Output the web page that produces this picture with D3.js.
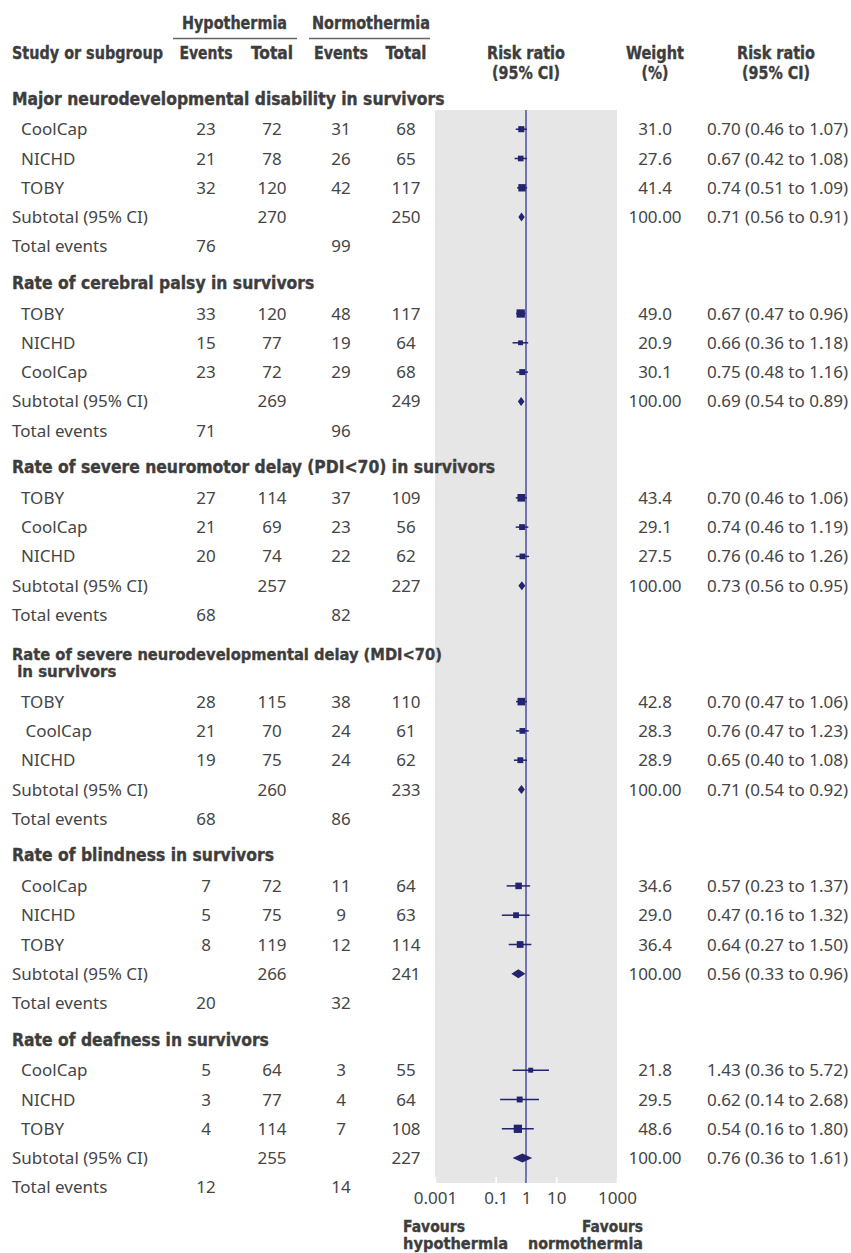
<!DOCTYPE html>
<html><head><meta charset="utf-8">
<script src="https://cdn.jsdelivr.net/npm/d3@7"></script>
<style>body{margin:0;background:#fff}</style>
</head><body><svg id="c" width="851" height="1253"></svg>
<script>
// ---------- data ----------
const outcomeTitles = [
  ["Major neurodevelopmental disability in survivors"],
  ["Rate of cerebral palsy in survivors"],
  ["Rate of severe neuromotor delay (PDI<70) in survivors"],
  ["Rate of severe neurodevelopmental delay (MDI<70)", " in survivors"],
  ["Rate of blindness in survivors"],
  ["Rate of deafness in survivors"]
];
const studyNames = [
  ["CoolCap","NICHD","TOBY"],["TOBY","NICHD","CoolCap"],["TOBY","CoolCap","NICHD"],
  ["TOBY"," CoolCap","NICHD"],["CoolCap","NICHD","TOBY"],["CoolCap","NICHD","TOBY"]
];
const hypEvents = [[23,21,32],[33,15,23],[27,21,20],[28,21,19],[7,5,8],[5,3,4]];
const hypTotal  = [[72,78,120],[120,77,72],[114,69,74],[115,70,75],[72,75,119],[64,77,114]];
const norEvents = [[31,26,42],[48,19,29],[37,23,22],[38,24,24],[11,9,12],[3,4,7]];
const norTotal  = [[68,65,117],[117,64,68],[109,56,62],[110,61,62],[64,63,114],[55,64,108]];
const weights   = [[31.0,27.6,41.4],[49.0,20.9,30.1],[43.4,29.1,27.5],[42.8,28.3,28.9],[34.6,29.0,36.4],[21.8,29.5,48.6]];
const rr     = [[0.70,0.67,0.74],[0.67,0.66,0.75],[0.70,0.74,0.76],[0.70,0.76,0.65],[0.57,0.47,0.64],[1.43,0.62,0.54]];
const rrLow  = [[0.46,0.42,0.51],[0.47,0.36,0.48],[0.46,0.46,0.46],[0.47,0.47,0.40],[0.23,0.16,0.27],[0.36,0.14,0.16]];
const rrHigh = [[1.07,1.08,1.09],[0.96,1.18,1.16],[1.06,1.19,1.26],[1.06,1.23,1.08],[1.37,1.32,1.50],[5.72,2.68,1.80]];
const subHypTotal = [270,269,257,260,266,255];
const subNorTotal = [250,249,227,233,241,227];
const subRR   = [0.71,0.69,0.73,0.71,0.56,0.76];
const subLow  = [0.56,0.54,0.56,0.54,0.33,0.36];
const subHigh = [0.91,0.89,0.95,0.92,0.96,1.61];
const totHyp = [76,71,68,68,20,12];
const totNor = [99,96,82,86,32,14];
const tickValues = [0.001,0.1,1,10,1000];
const tickLabels = ["0.001","0.1","1","10","1000"];

// ---------- layout ----------
const svg = d3.select("#c");
const TXT = "#454545", BTXT = "#3d3d3d", NAVY = "#23236f", LINE1 = "#4040a0";
const REG = "'Noto Sans', 'Open Sans', sans-serif";
const BOLD = "'DejaVu Sans Condensed', 'DejaVu Sans', sans-serif";

function fitSize(family, weight, str, target){
  const t = svg.append("text").attr("font-family", family).attr("font-weight", weight)
    .attr("font-size", 20).text(str);
  const w = t.node().getComputedTextLength(); t.remove();
  return 20 * target / w;
}
const regSize = fitSize(REG, 400, "Subtotal (95% CI)", 136);
const boldSize = fitSize(BOLD, 700, "Major neurodevelopmental disability in survivors", 433);

function reg(x, y, s, anchor){
  return svg.append("text").attr("x", x).attr("y", y).attr("text-anchor", anchor || "start")
    .attr("font-family", REG).attr("font-size", regSize).attr("fill", TXT).text(s);
}
function bold(x, y, s, anchor, len, size){
  const t = svg.append("text").attr("x", x).attr("y", y).attr("text-anchor", anchor || "start")
    .attr("font-family", BOLD).attr("font-weight", 700).attr("font-size", size || boldSize)
    .attr("fill", BTXT).attr("stroke", BTXT).attr("stroke-width", 0.35)
    .attr("xml:space","preserve").text(s);
  if (len) t.attr("textLength", len).attr("lengthAdjust", "spacingAndGlyphs");
  return t;
}

const panelL = 435, panelR = 617, panelT = 110, panelB = 1183;
const x = d3.scaleLog().domain([0.001, 1000]).range([panelL, panelR]);
const sq = d3.scaleLinear().domain([0, 50]).range([2.2, 8.45]);

const colHypE = 206, colHypT = 272, colNorE = 341, colNorT = 406, colW = 655, colRRend = 848;
const rowH = 29.3, pitch = 184.3, extraLine = 19.5;

// panel
svg.append("rect").attr("x", panelL).attr("y", panelT).attr("width", panelR - panelL)
  .attr("height", panelB - panelT).attr("fill", "#e6e6e6");

// header
bold(234.5, 29, "Hypothermia", "middle", 105);
bold(371, 29, "Normothermia", "middle", 118);
svg.append("line").attr("x1",173).attr("x2",297).attr("y1",38.5).attr("y2",38.5).attr("stroke","#666").attr("stroke-width",1.3);
svg.append("line").attr("x1",309).attr("x2",430).attr("y1",38.5).attr("y2",38.5).attr("stroke","#666").attr("stroke-width",1.3);
bold(12, 59, "Study or subgroup", "start", 151);
bold(colHypE, 59, "Events", "middle", 53);
bold(colHypT, 59, "Total", "middle", 42);
bold(colNorE, 59, "Events", "middle", 54);
bold(colNorT, 59, "Total", "middle", 41);
bold(526, 59, "Risk ratio", "middle", 78); bold(526, 79, "(95% CI)", "middle", 68);
bold(colW, 59, "Weight", "middle", 58); bold(colW, 79, "(%)", "middle", 27);
bold(776, 59, "Risk ratio", "middle", 78); bold(776, 79, "(95% CI)", "middle", 68);

const f2 = d3.format(".2f"), f1 = d3.format(".1f");
const rrText = (a, l, h) => `${f2(a)} (${f2(l)} to ${f2(h)})`;

// axis (white ticks inside panel)
const axis = d3.axisBottom(x).tickValues(tickValues).tickFormat((d, i) => tickLabels[i])
  .tickSizeInner(-6).tickSizeOuter(0).tickPadding(9);
const ag = svg.append("g").attr("transform", `translate(0,${panelB})`).call(axis);
ag.select(".domain").remove();
ag.selectAll(".tick line").attr("stroke", "#fff").attr("stroke-width", 1.5);
ag.selectAll(".tick text").attr("font-family", REG).attr("font-size", regSize).attr("fill", TXT);

// line of no effect
svg.append("line").attr("x1", x(1)).attr("x2", x(1)).attr("y1", panelT).attr("y2", panelB)
  .attr("stroke", LINE1).attr("stroke-width", 1.4);

let first = 129.2;
outcomeTitles.forEach((title, s) => {
  if (s > 0) first += pitch + (title.length - 1) * extraLine;
  const n = title.length;
  title.forEach((ln, k) => {
    if (n === 1) bold(12, first - 24.5, ln);
    else {
      const t = bold(12, first - 24.5 - (n - 1 - k) * 17.5, ln, "start", null, boldSize * 0.96);
      if (k === 0) t.attr("textLength", 430).attr("lengthAdjust", "spacingAndGlyphs");
    }
  });
  for (let i = 0; i < 3; i++) {
    const cy = first + i * rowH, by = cy + 6;
    reg(21, by, studyNames[s][i]).attr("xml:space","preserve");
    reg(colHypE, by, hypEvents[s][i], "middle");
    reg(colHypT, by, hypTotal[s][i], "middle");
    reg(colNorE, by, norEvents[s][i], "middle");
    reg(colNorT, by, norTotal[s][i], "middle");
    reg(colW, by, f1(weights[s][i]), "middle");
    reg(colRRend, by, rrText(rr[s][i], rrLow[s][i], rrHigh[s][i]), "end");
    svg.append("line").attr("x1", x(rrLow[s][i])).attr("x2", x(rrHigh[s][i]))
      .attr("y1", cy).attr("y2", cy).attr("stroke", NAVY).attr("stroke-width", 1.5);
    const sz = sq(weights[s][i]);
    svg.append("rect").attr("x", x(rr[s][i]) - sz / 2).attr("y", cy - sz / 2)
      .attr("width", sz).attr("height", sz).attr("fill", NAVY);
  }
  const sy = first + 3 * rowH;
  reg(12, sy + 6, "Subtotal (95% CI)");
  reg(colHypT, sy + 6, subHypTotal[s], "middle");
  reg(colNorT, sy + 6, subNorTotal[s], "middle");
  reg(colW, sy + 6, "100.00", "middle");
  reg(colRRend, sy + 6, rrText(subRR[s], subLow[s], subHigh[s]), "end");
  const h = 4.5;
  svg.append("path").attr("fill", NAVY).attr("d",
    `M${x(subLow[s])},${sy}L${x(subRR[s])},${sy - h}L${x(subHigh[s])},${sy}L${x(subRR[s])},${sy + h}Z`);
  const ty = first + 4 * rowH;
  reg(12, ty + 6, "Total events");
  reg(colHypE, ty + 6, totHyp[s], "middle");
  reg(colNorE, ty + 6, totNor[s], "middle");
});

const fs = boldSize * 0.93;
bold(403, 1231.5, "Favours", "start", 62, fs);
bold(403, 1248.5, "hypothermia", "start", 105, fs);
bold(643, 1231.5, "Favours", "end", 61, fs);
bold(643, 1248.5, "normothermia", "end", 115, fs);
</script>
</body></html>
